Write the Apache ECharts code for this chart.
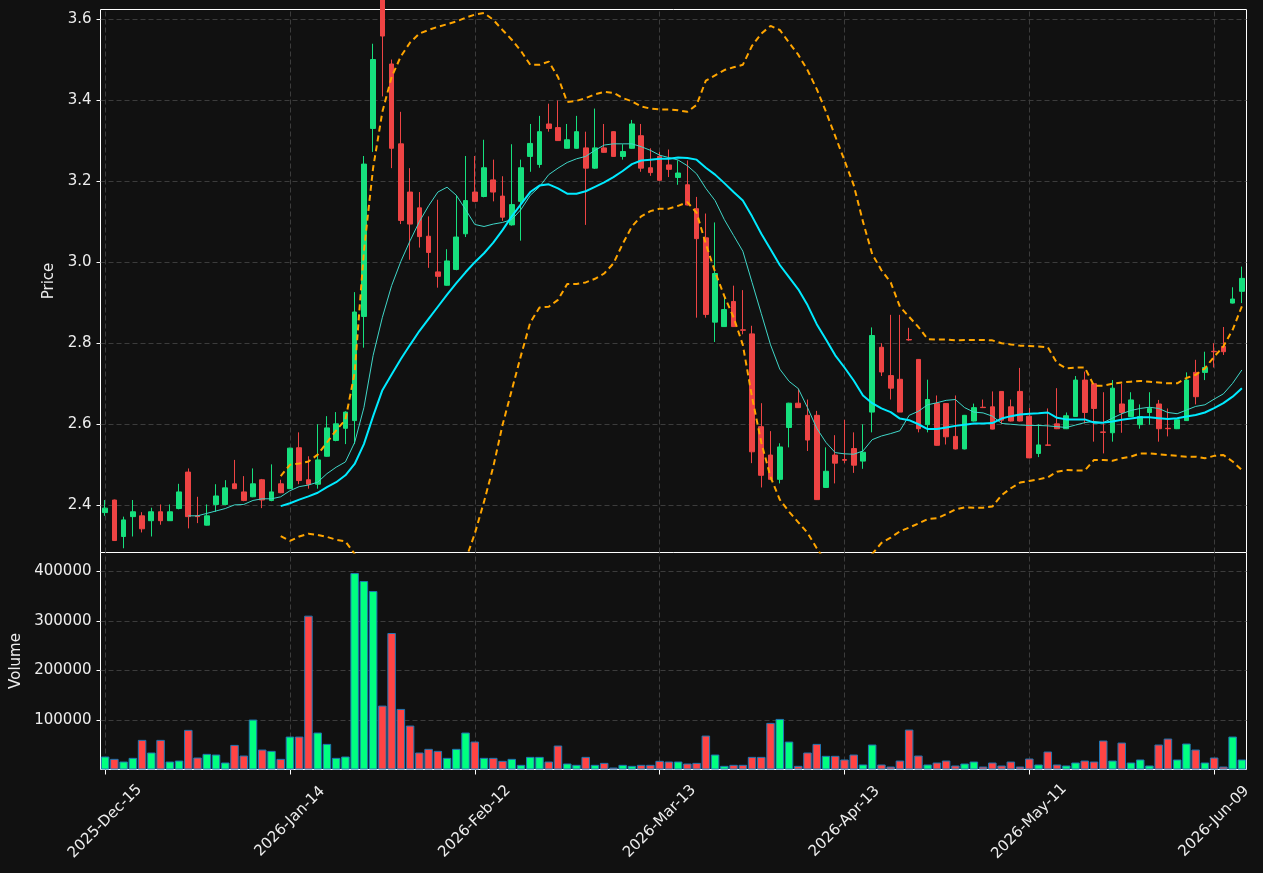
<!DOCTYPE html>
<html>
<head>
<meta charset="utf-8">
<title>Price / Volume</title>
<script src="https://cdn.jsdelivr.net/npm/echarts@6/dist/echarts.min.js"></script>
<style>
  html, body { margin: 0; padding: 0; background: #111111; }
  #chart { width: 1263px; height: 873px; }
</style>
</head>
<body>
<div id="chart"></div>
<script>
// trading days, by month
const dec25 = [15, 16, 17, 18, 19, 22, 23, 24, 26, 29, 30, 31]
const jan26 = [2, 5, 6, 7, 8, 9, 12, 13, 14, 15, 16, 20, 21, 22, 23, 26, 27, 28, 29, 30]
const feb26 = [2, 3, 4, 5, 6, 9, 10, 11, 12, 13, 17, 18, 19, 20, 23, 24, 25, 26, 27]
const mar26 = [2, 3, 4, 5, 6, 9, 10, 11, 12, 13, 16, 17, 18, 19, 20, 23, 24, 25, 26, 27, 30, 31]
const apr26 = [1, 2, 6, 7, 8, 9, 10, 13, 14, 15, 16, 17, 20, 21, 22, 23, 24, 27, 28, 29, 30]
const may26 = [1, 4, 5, 6, 7, 8, 11, 12, 13, 14, 15, 18, 19, 20, 21, 22, 26, 27, 28, 29]
const jun26 = [1, 2, 3, 4, 5, 8, 9, 10, 11, 12]

const tickDates = ['2025-Dec-15', '2026-Jan-14', '2026-Feb-12', '2026-Mar-13', '2026-Apr-13', '2026-May-11', '2026-Jun-09']
const priceTicks = [2.4, 2.6, 2.8, 3.0, 3.2, 3.4, 3.6]
const volumeTicks = [100000, 200000, 300000, 400000]

const open = [
  2.382, 2.413, 2.323, 2.372, 2.374, 2.362, 2.384, 2.362, 2.392, 2.482,
  2.374, 2.351, 2.402, 2.402, 2.453, 2.433, 2.421, 2.463, 2.412, 2.453,
  2.441, 2.542, 2.463, 2.452, 2.521, 2.560, 2.590, 2.609, 2.866, 3.330,
  3.660, 3.489, 3.292, 3.173, 3.134, 3.064, 2.976, 2.943, 2.982, 3.070,
  3.173, 3.162, 3.203, 3.163, 3.092, 3.150, 3.261, 3.241, 3.341, 3.332,
  3.281, 3.281, 3.282, 3.232, 3.282, 3.322, 3.261, 3.281, 3.312, 3.233,
  3.261, 3.240, 3.209, 3.191, 3.132, 3.060, 2.852, 2.841, 2.903, 2.833,
  2.823, 2.594, 2.524, 2.464, 2.592, 2.652, 2.622, 2.622, 2.444, 2.524,
  2.513, 2.540, 2.509, 2.630, 2.790, 2.720, 2.711, 2.809, 2.760, 2.599,
  2.651, 2.651, 2.570, 2.539, 2.608, 2.642, 2.643, 2.681, 2.643, 2.681,
  2.620, 2.528, 2.549, 2.601, 2.589, 2.619, 2.709, 2.700, 2.581, 2.579,
  2.650, 2.619, 2.599, 2.629, 2.650, 2.590, 2.589, 2.609, 2.728, 2.728,
  2.780, 2.792, 2.899, 2.928
]
const close = [
  2.393, 2.313, 2.364, 2.384, 2.342, 2.384, 2.362, 2.384, 2.433, 2.372,
  2.372, 2.374, 2.423, 2.443, 2.441, 2.412, 2.453, 2.413, 2.433, 2.431,
  2.541, 2.461, 2.452, 2.512, 2.591, 2.601, 2.630, 2.877, 3.242, 3.500,
  3.558, 3.281, 3.103, 3.094, 3.063, 3.024, 2.965, 3.003, 3.062, 3.152,
  3.150, 3.233, 3.173, 3.111, 3.142, 3.233, 3.293, 3.322, 3.330, 3.300,
  3.302, 3.322, 3.232, 3.282, 3.271, 3.261, 3.273, 3.341, 3.232, 3.221,
  3.202, 3.229, 3.220, 3.141, 3.058, 2.871, 2.972, 2.883, 2.841, 2.832,
  2.532, 2.474, 2.464, 2.544, 2.652, 2.641, 2.561, 2.414, 2.484, 2.504,
  2.511, 2.499, 2.531, 2.819, 2.729, 2.689, 2.630, 2.808, 2.589, 2.661,
  2.548, 2.569, 2.539, 2.622, 2.641, 2.641, 2.588, 2.610, 2.608, 2.608,
  2.517, 2.549, 2.548, 2.589, 2.621, 2.709, 2.629, 2.639, 2.580, 2.689,
  2.629, 2.660, 2.619, 2.639, 2.589, 2.589, 2.611, 2.709, 2.668, 2.740,
  2.779, 2.779, 2.909, 2.960
]
const high = [
  2.413, 2.414, 2.372, 2.413, 2.383, 2.394, 2.402, 2.402, 2.453, 2.491,
  2.421, 2.402, 2.452, 2.462, 2.512, 2.472, 2.491, 2.465, 2.501, 2.463,
  2.542, 2.580, 2.521, 2.600, 2.620, 2.630, 2.632, 2.926, 3.262, 3.539,
  3.680, 3.500, 3.371, 3.232, 3.173, 3.113, 3.154, 3.032, 3.165, 3.262,
  3.262, 3.302, 3.253, 3.212, 3.291, 3.253, 3.341, 3.361, 3.391, 3.399,
  3.341, 3.361, 3.322, 3.379, 3.341, 3.323, 3.291, 3.351, 3.341, 3.281,
  3.272, 3.278, 3.251, 3.251, 3.161, 3.120, 3.098, 2.918, 2.942, 2.931,
  2.843, 2.652, 2.583, 2.553, 2.653, 2.688, 2.661, 2.633, 2.543, 2.573,
  2.611, 2.580, 2.600, 2.839, 2.800, 2.870, 2.870, 2.838, 2.761, 2.710,
  2.671, 2.652, 2.671, 2.623, 2.651, 2.661, 2.681, 2.682, 2.661, 2.739,
  2.640, 2.600, 2.639, 2.689, 2.629, 2.719, 2.730, 2.701, 2.679, 2.709,
  2.700, 2.679, 2.649, 2.679, 2.660, 2.639, 2.612, 2.728, 2.759, 2.779,
  2.800, 2.840, 2.938, 2.989
]
const low = [
  2.374, 2.312, 2.294, 2.323, 2.333, 2.323, 2.352, 2.362, 2.390, 2.343,
  2.356, 2.350, 2.384, 2.400, 2.440, 2.410, 2.420, 2.393, 2.410, 2.430,
  2.440, 2.452, 2.441, 2.441, 2.520, 2.558, 2.551, 2.551, 2.789, 3.272,
  3.409, 3.232, 3.094, 3.006, 3.036, 2.986, 2.937, 2.942, 2.980, 3.062,
  3.148, 3.160, 3.150, 3.102, 3.090, 3.053, 3.223, 3.233, 3.322, 3.300,
  3.280, 3.280, 3.092, 3.230, 3.270, 3.260, 3.253, 3.280, 3.223, 3.213,
  3.200, 3.210, 3.191, 3.140, 2.863, 2.863, 2.803, 2.840, 2.840, 2.822,
  2.504, 2.444, 2.462, 2.454, 2.543, 2.640, 2.534, 2.413, 2.443, 2.454,
  2.504, 2.480, 2.490, 2.580, 2.719, 2.661, 2.630, 2.806, 2.580, 2.580,
  2.547, 2.550, 2.538, 2.538, 2.607, 2.640, 2.587, 2.600, 2.607, 2.607,
  2.516, 2.519, 2.547, 2.588, 2.588, 2.618, 2.602, 2.557, 2.528, 2.557,
  2.579, 2.618, 2.589, 2.599, 2.557, 2.570, 2.588, 2.608, 2.649, 2.709,
  2.740, 2.771, 2.898, 2.899
]
const volume = [
  26200, 21500, 16100, 23500, 59800, 34300, 59800, 16100, 18100, 80000,
  24200, 31600, 30200, 14100, 49700, 28200, 100800, 40300, 37600, 21500,
  66500, 66500, 310500, 74600, 51700, 23500, 26200, 396500, 380400, 360200,
  129000, 275500, 122300, 88700, 34300, 41700, 37600, 23500, 41700, 74600,
  56400, 23500, 23500, 17500, 21500, 9400, 25500, 25500, 16100, 48400,
  12100, 9400, 25500, 9400, 13400, 4000, 9400, 7400, 9400, 9400,
  17500, 16100, 16100, 12100, 13400, 68500, 30200, 7400, 9400, 9400,
  25500, 25500, 94100, 102100, 56400, 7400, 34300, 51700, 27600, 27600,
  20200, 30200, 10100, 50400, 10100, 6000, 18100, 80600, 28200, 10100,
  14100, 18100, 8100, 12100, 16100, 6000, 14100, 8100, 16100, 6000,
  22200, 10100, 36300, 10100, 8100, 14100, 18100, 16100, 58500, 18100,
  54400, 14100, 20200, 8100, 50400, 62500, 20200, 52400, 40300, 14100,
  24200, 6000, 66500, 20200
]

// moving averages and bands (null before the window fills)
const ma10 = [
  null, null, null, null, null, null, null, null, null, 2.374,
  2.374, 2.380, 2.386, 2.392, 2.401, 2.402, 2.412, 2.416, 2.416, 2.421,
  2.436, 2.446, 2.450, 2.457, 2.478, 2.494, 2.507, 2.555, 2.641, 2.770,
  2.864, 2.942, 3.002, 3.053, 3.100, 3.139, 3.173, 3.185, 3.165, 3.130,
  3.093, 3.088, 3.094, 3.098, 3.105, 3.130, 3.165, 3.186, 3.216, 3.232,
  3.246, 3.255, 3.261, 3.276, 3.289, 3.292, 3.292, 3.292, 3.285, 3.276,
  3.264, 3.258, 3.252, 3.238, 3.218, 3.182, 3.152, 3.105, 3.066, 3.027,
  2.950, 2.873, 2.796, 2.736, 2.706, 2.688, 2.641, 2.590, 2.555, 2.530,
  2.527, 2.526, 2.534, 2.562, 2.571, 2.577, 2.584, 2.622, 2.632, 2.648,
  2.653, 2.659, 2.661, 2.641, 2.630, 2.628, 2.620, 2.602, 2.600, 2.598,
  2.597, 2.597, 2.596, 2.594, 2.592, 2.598, 2.604, 2.607, 2.604, 2.615,
  2.626, 2.634, 2.639, 2.642, 2.639, 2.629, 2.626, 2.635, 2.644, 2.648,
  2.662, 2.675, 2.701, 2.734
]
const ma20 = [
  null, null, null, null, null, null, null, null, null, null,
  null, null, null, null, null, null, null, null, null, 2.398,
  2.405, 2.414, 2.422, 2.431, 2.445, 2.457, 2.474, 2.502, 2.551, 2.620,
  2.684, 2.723, 2.761, 2.796, 2.830, 2.860, 2.890, 2.920, 2.948, 2.975,
  3.000, 3.022, 3.048, 3.079, 3.113, 3.143, 3.173, 3.189, 3.192, 3.182,
  3.169, 3.169, 3.175, 3.186, 3.197, 3.210, 3.225, 3.242, 3.251, 3.253,
  3.255, 3.255, 3.258, 3.257, 3.253, 3.233, 3.216, 3.195, 3.173, 3.152,
  3.113, 3.070, 3.032, 2.993, 2.963, 2.933, 2.894, 2.847, 2.809, 2.770,
  2.740, 2.708, 2.671, 2.652, 2.639, 2.630, 2.614, 2.610, 2.600, 2.588,
  2.588, 2.592, 2.596, 2.599, 2.602, 2.602, 2.603, 2.614, 2.620, 2.624,
  2.626, 2.627, 2.629, 2.616, 2.612, 2.612, 2.612, 2.604, 2.604, 2.607,
  2.611, 2.614, 2.617, 2.617, 2.615, 2.613, 2.615, 2.619, 2.623, 2.629,
  2.640, 2.652, 2.668, 2.689
]
const bbUpper = [
  null, null, null, null, null, null, null, null, null, null,
  null, null, null, null, null, null, null, null, null, 2.472,
  2.500, 2.503, 2.508, 2.525, 2.555, 2.585, 2.611, 2.727, 3.027, 3.233,
  3.371, 3.457, 3.508, 3.542, 3.564, 3.573, 3.581, 3.587, 3.594, 3.603,
  3.611, 3.615, 3.598, 3.573, 3.549, 3.521, 3.487, 3.487, 3.495, 3.457,
  3.395, 3.398, 3.405, 3.414, 3.420, 3.418, 3.405, 3.397, 3.384, 3.379,
  3.377, 3.377, 3.375, 3.371, 3.388, 3.448, 3.461, 3.474, 3.481, 3.487,
  3.534, 3.564, 3.583, 3.573, 3.542, 3.512, 3.474, 3.427, 3.371, 3.311,
  3.251, 3.190, 3.100, 3.020, 2.980, 2.950, 2.890, 2.865, 2.840, 2.810,
  2.809, 2.809, 2.807, 2.808, 2.808, 2.808, 2.807, 2.800, 2.797, 2.794,
  2.793, 2.792, 2.790, 2.751, 2.738, 2.740, 2.740, 2.695, 2.695, 2.700,
  2.703, 2.705, 2.707, 2.705, 2.703, 2.701, 2.701, 2.714, 2.722, 2.738,
  2.767, 2.792, 2.833, 2.891
]
const bbLower = [
  null, null, null, null, null, null, null, null, null, null,
  null, null, null, null, null, null, null, null, null, 2.324,
  2.312, 2.323, 2.330, 2.327, 2.322, 2.315, 2.311, 2.280, 2.080, 2.010,
  2.000, 1.990, 2.010, 2.040, 2.060, 2.090, 2.120, 2.160, 2.200, 2.265,
  2.330, 2.409, 2.495, 2.598, 2.684, 2.770, 2.851, 2.888, 2.890, 2.907,
  2.946, 2.946, 2.950, 2.959, 2.972, 2.997, 3.045, 3.088, 3.113, 3.126,
  3.132, 3.132, 3.139, 3.148, 3.122, 3.045, 2.976, 2.916, 2.864, 2.796,
  2.667, 2.555, 2.470, 2.414, 2.384, 2.358, 2.332, 2.294, 2.260, 2.230,
  2.210, 2.220, 2.250, 2.280, 2.307, 2.320, 2.336, 2.345, 2.355, 2.366,
  2.368, 2.378, 2.390, 2.395, 2.394, 2.394, 2.397, 2.425, 2.442, 2.456,
  2.460, 2.464, 2.469, 2.483, 2.487, 2.486, 2.486, 2.512, 2.512, 2.510,
  2.516, 2.520, 2.528, 2.528, 2.526, 2.524, 2.522, 2.520, 2.520, 2.516,
  2.522, 2.524, 2.508, 2.487
]

const pad = d => (d < 10 ? '0' : '') + d
const dates = [].concat(
  dec25.map(d => '2025-Dec-' + pad(d)),
  jan26.map(d => '2026-Jan-' + pad(d)),
  feb26.map(d => '2026-Feb-' + pad(d)),
  mar26.map(d => '2026-Mar-' + pad(d)),
  apr26.map(d => '2026-Apr-' + pad(d)),
  may26.map(d => '2026-May-' + pad(d)),
  jun26.map(d => '2026-Jun-' + pad(d))
)

const UP = '#16e07e'
const DOWN = '#ee4444'
const VOL_UP = '#00ff80'
const VOL_DOWN = '#ff4444'
const FONT = 'DejaVu Sans'
const TEXT = '#ededed'
const FONT_SIZE = 15
const GRID_LINE = { color: '#3c3c3c', width: 1, type: [5, 3] }

const candles = dates.map((_, i) => [open[i], close[i], low[i], high[i]])
const volData = volume.map((v, i) => ({
  value: v,
  itemStyle: { color: close[i] >= open[i] ? VOL_UP : VOL_DOWN }
}))

// dashed grid lines, kept under the marks
function gridMarks(yValues) {
  return {
    silent: true,
    symbol: ['none', 'none'],
    label: { show: false },
    lineStyle: GRID_LINE,
    animation: false,
    z: 0,
    data: tickDates.map(d => ({ xAxis: d })).concat(yValues.map(v => ({ yAxis: v })))
  }
}

const showTick = (idx, val) => tickDates.indexOf(val) >= 0

const chart = echarts.init(document.getElementById('chart'))
const option = {
  backgroundColor: '#111111',
  animation: false,
  textStyle: { fontFamily: FONT },
  // half-pixel offsets keep the white frames crisp
  grid: [
    { left: 100.5, right: 16.5, top: 9.5, height: 543, show: true, borderColor: '#ffffff', borderWidth: 1, backgroundColor: '#111111' },
    { left: 100.5, right: 16.5, top: 552.5, height: 217, show: true, borderColor: '#ffffff', borderWidth: 1, backgroundColor: '#111111' }
  ],
  xAxis: [
    {
      type: 'category', gridIndex: 0, data: dates, boundaryGap: true,
      axisLine: { show: false }, axisTick: { show: false }, axisLabel: { show: false }, splitLine: { show: false }
    },
    {
      type: 'category', gridIndex: 1, data: dates, boundaryGap: true,
      axisLine: { show: false },
      axisTick: { show: true, interval: showTick, alignWithLabel: true, length: 5, lineStyle: { color: '#ffffff' } },
      axisLabel: {
        interval: showTick, rotate: 45, align: 'center', verticalAlign: 'middle', margin: 52,
        color: TEXT, fontSize: FONT_SIZE, fontFamily: FONT
      },
      splitLine: { show: false }
    }
  ],
  yAxis: [
    {
      type: 'value', gridIndex: 0, min: 2.2835, max: 3.6235, scale: true,
      name: 'Price', nameLocation: 'middle', nameGap: 35,
      nameTextStyle: { color: TEXT, fontSize: FONT_SIZE, fontFamily: FONT },
      axisLine: { show: false },
      axisTick: { show: true, length: 4, customValues: priceTicks, lineStyle: { color: '#ffffff' } },
      axisLabel: { customValues: priceTicks, color: TEXT, fontSize: FONT_SIZE, fontFamily: FONT, margin: 9, formatter: v => v.toFixed(1) },
      splitLine: { show: false }
    },
    {
      type: 'value', gridIndex: 1, min: 0, max: 438000,
      name: 'Volume', nameLocation: 'middle', nameGap: 74,
      nameTextStyle: { color: TEXT, fontSize: FONT_SIZE, fontFamily: FONT },
      axisLine: { show: false },
      axisTick: { show: true, length: 4, customValues: volumeTicks, lineStyle: { color: '#ffffff' } },
      axisLabel: { customValues: volumeTicks, color: TEXT, fontSize: FONT_SIZE, fontFamily: FONT, margin: 9, formatter: v => String(v) },
      splitLine: { show: false }
    }
  ],
  series: [
    {
      name: 'OHLC', type: 'candlestick', xAxisIndex: 0, yAxisIndex: 0,
      data: candles, barWidth: '56%', clip: true,
      itemStyle: { color: UP, color0: DOWN, borderColor: UP, borderColor0: DOWN, borderWidth: 1 },
      markLine: gridMarks(priceTicks)
    },
    {
      name: 'MA10', type: 'line', xAxisIndex: 0, yAxisIndex: 0, data: ma10,
      showSymbol: false, clip: true, lineStyle: { color: '#3fd6c8', width: 1 }
    },
    {
      name: 'MA20', type: 'line', xAxisIndex: 0, yAxisIndex: 0, data: ma20,
      showSymbol: false, clip: true, lineStyle: { color: '#00eaff', width: 2 }
    },
    {
      name: 'BB upper', type: 'line', xAxisIndex: 0, yAxisIndex: 0, data: bbUpper,
      showSymbol: false, clip: true, lineStyle: { color: '#ffa500', width: 2, type: [6, 4] }
    },
    {
      name: 'BB lower', type: 'line', xAxisIndex: 0, yAxisIndex: 0, data: bbLower,
      showSymbol: false, clip: true, lineStyle: { color: '#ffa500', width: 2, type: [6, 4] }
    },
    {
      name: 'Volume', type: 'bar', xAxisIndex: 1, yAxisIndex: 1, data: volData,
      barCategoryGap: '8%',
      itemStyle: { borderColor: '#1f77b4', borderWidth: 1 },
      markLine: gridMarks(volumeTicks)
    }
  ]
}
chart.setOption(option)
window.addEventListener('resize', () => chart.resize())
</script>
</body>
</html>
